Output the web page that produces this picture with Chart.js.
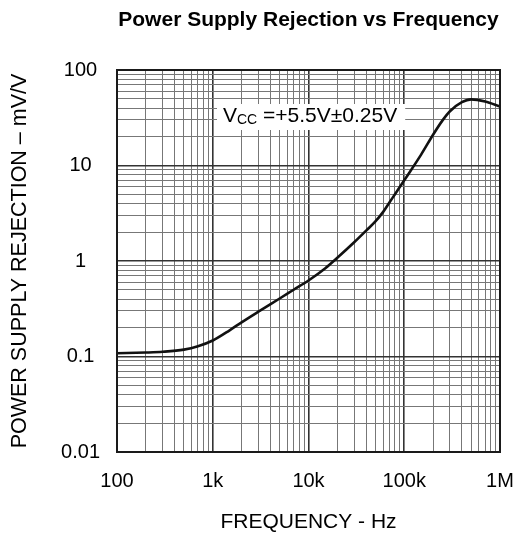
<!DOCTYPE html>
<html><head><meta charset="utf-8">
<script src="https://cdn.jsdelivr.net/npm/chart.js@4"></script>
<style>html,body{margin:0;padding:0;background:#fff}canvas{display:block}</style>
</head><body>
<canvas id="c" width="518" height="533"></canvas>
<script>
const chartTitle = "Power Supply Rejection vs Frequency";
const xAxisTitle = "FREQUENCY - Hz";
const yAxisTitle = "POWER SUPPLY REJECTION \u2013 mV/V";
const frequencies = [100, 200, 300, 500, 700, 1000, 1500, 2000, 3000, 5000, 7000, 10000, 15000, 20000, 30000, 40000, 50000, 60000, 70000, 80000, 100000, 150000, 200000, 250000, 300000, 400000, 500000, 700000, 1000000];
const rejection   = [0.108, 0.110, 0.112, 0.118, 0.128, 0.147, 0.188, 0.228, 0.295, 0.405, 0.50, 0.625, 0.84, 1.08, 1.57, 2.08, 2.6, 3.25, 4.1, 5.0, 7.0, 13, 21, 29.5, 37, 46, 49.3, 46.8, 41.5];
const xTickValues = [100, 1000, 10000, 100000, 1000000];
const xTickLabels = ["100", "1k", "10k", "100k", "1M"];
const yTickValues = [0.01, 0.1, 1, 10, 100];
const yTickLabels = ["0.01", "0.1", "1", "10", "100"];
const noteMain = "V", noteSub = "CC", noteRest = " =+5.5V\u00b10.25V";

const FONT = '"Liberation Sans", Arial, Helvetica, sans-serif';

function logTicks(decades) {
  const t = [];
  for (let i = 0; i < decades.length; i++) {
    const d = decades[i];
    if (i === decades.length - 1) { t.push({value: d}); break; }
    for (let m = 1; m <= 9; m++) t.push({value: +(m * d).toPrecision(6)});
  }
  return t;
}
function isDecade(v, decades) { return decades.some(d => Math.abs(v - d) / d < 1e-6); }
function labelFor(v, vals, labels) {
  const i = vals.findIndex(d => Math.abs(v - d) / d < 1e-6);
  return i >= 0 ? labels[i] : '';
}

const titlePlugin = {
  id: 'titleAndNote',
  afterDraw(chart) {
    const {ctx, chartArea: a} = chart;
    ctx.save();
    ctx.strokeStyle = '#1a1a1a';
    ctx.lineWidth = 2;
    ctx.strokeRect(a.left, a.top, a.right - a.left, a.bottom - a.top);
    ctx.fillStyle = '#000';
    ctx.font = 'bold 21px ' + FONT;
    ctx.textAlign = 'center';
    ctx.textBaseline = 'middle';
    ctx.fillText(chartTitle, (a.left + a.right) / 2, 20);
    const big = '21px ' + FONT, small = '14px ' + FONT;
    ctx.font = big; const w1 = ctx.measureText(noteMain).width;
    const w3 = ctx.measureText(noteRest).width;
    ctx.font = small; const w2 = ctx.measureText(noteSub).width;
    const x0 = a.left + 106, base = a.top + 52;
    ctx.fillStyle = '#fff';
    ctx.fillRect(x0 - 6, a.top + 34, w1 + w2 + w3 + 14, 26);
    ctx.fillStyle = '#000';
    ctx.textAlign = 'left';
    ctx.textBaseline = 'alphabetic';
    ctx.font = big; ctx.fillText(noteMain, x0, base);
    ctx.font = small; ctx.fillText(noteSub, x0 + w1, base + 2);
    ctx.font = big; ctx.fillText(noteRest, x0 + w1 + w2, base);
    ctx.restore();
  }
};

const gridColor = (decades) => (c) => (c.tick && isDecade(c.tick.value, decades)) ? '#333' : '#777';
const gridWidth = (decades) => (c) => (c.tick && isDecade(c.tick.value, decades)) ? 1.6 : 1;

new Chart(document.getElementById('c'), {
  type: 'line',
  data: {
    datasets: [{
      data: frequencies.map((f, i) => ({x: f, y: rejection[i]})),
      borderColor: '#111',
      borderWidth: 2.6,
      pointRadius: 0,
      cubicInterpolationMode: 'monotone',
      fill: false
    }]
  },
  options: {
    responsive: false,
    animation: false,
    events: [],
    layout: {padding: {top: 70, right: 18, left: 0, bottom: 0}},
    plugins: {legend: {display: false}, tooltip: {enabled: false}, title: {display: false}},
    scales: {
      x: {
        type: 'logarithmic',
        min: xTickValues[0], max: xTickValues[xTickValues.length - 1],
        afterBuildTicks: (s) => { s.ticks = logTicks(xTickValues); },
        afterFit: (s) => { s.height = 81; s.paddingLeft = 0; s.paddingRight = 0; },
        grid: {color: gridColor(xTickValues), lineWidth: gridWidth(xTickValues), drawTicks: false},
        border: {display: false},
        ticks: {
          autoSkip: false, maxRotation: 0, padding: 17, color: '#000',
          font: {family: FONT, size: 20},
          callback: (v) => labelFor(v, xTickValues, xTickLabels)
        },
        title: {display: true, text: xAxisTitle, color: '#000', font: {family: FONT, size: 21, lineHeight: 1}, padding: {top: 0, bottom: 0}}
      },
      y: {
        type: 'logarithmic',
        min: yTickValues[0], max: yTickValues[yTickValues.length - 1],
        afterBuildTicks: (s) => { s.ticks = logTicks(yTickValues); },
        afterFit: (s) => { s.width = 117; s.paddingTop = 0; s.paddingBottom = 0; },
        grid: {color: gridColor(yTickValues), lineWidth: gridWidth(yTickValues), drawTicks: false},
        border: {display: false},
        ticks: {
          autoSkip: false, padding: 17, crossAlign: 'center', color: '#000',
          font: {family: FONT, size: 20},
          callback: (v) => labelFor(v, yTickValues, yTickLabels)
        },
        title: {display: true, text: yAxisTitle, color: '#000', font: {family: FONT, size: 21.5, lineHeight: 1}, padding: {top: 9, bottom: 0}}
      }
    }
  },
  plugins: [titlePlugin]
});
</script>
</body></html>
